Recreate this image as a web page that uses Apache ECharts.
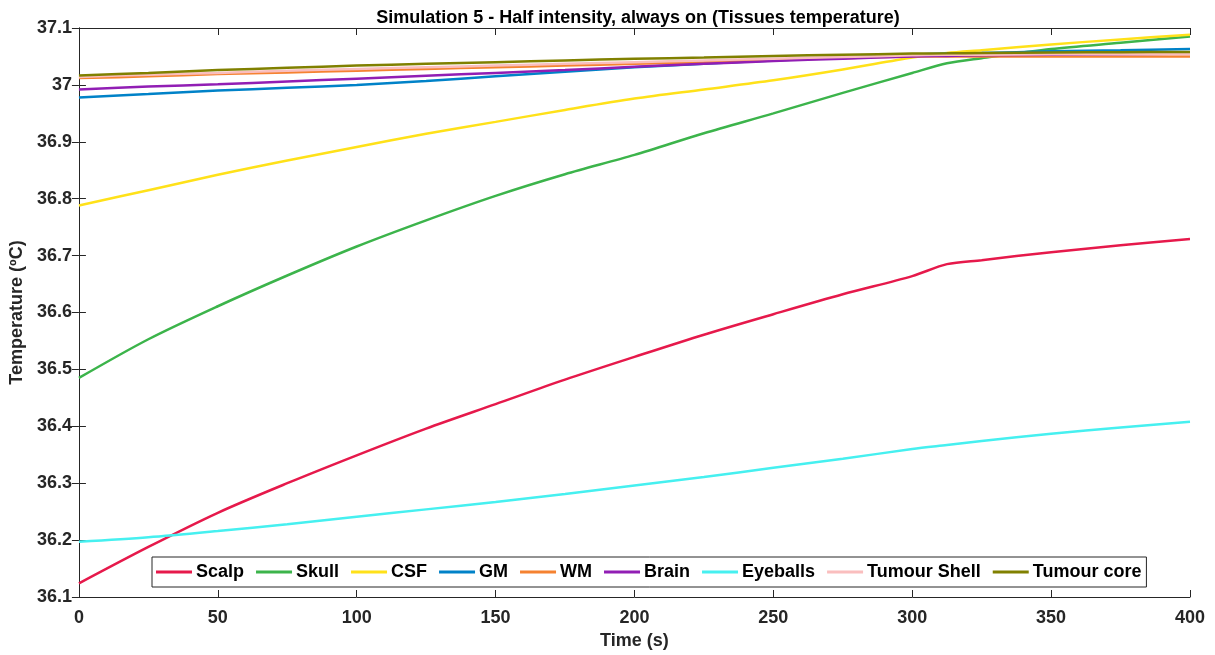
<!DOCTYPE html>
<html>
<head>
<meta charset="utf-8">
<script src="https://cdn.jsdelivr.net/npm/echarts@6/dist/echarts.min.js"></script>
<style>html,body{margin:0;padding:0;background:#fff}#c{width:1215px;height:655px}</style>
</head>
<body>
<div id="c"></div>
<script>
const times = [0,25,50,75,100,125,150,175,200,225,250,275,300,312.5,325,350,375,400];
const scalp    = [36.124,36.188,36.248,36.300,36.349,36.396,36.439,36.482,36.522,36.561,36.597,36.632,36.664,36.685,36.692,36.706,36.718,36.729];
const skull    = [36.485,36.553,36.611,36.665,36.716,36.762,36.805,36.843,36.877,36.915,36.950,36.986,37.021,37.038,37.047,37.063,37.074,37.085];
const csf      = [36.788,36.815,36.842,36.867,36.891,36.914,36.935,36.956,36.976,36.992,37.008,37.027,37.048,37.056,37.061,37.071,37.080,37.088];
const gm       = [36.978,36.984,36.990,36.995,37.000,37.007,37.015,37.023,37.031,37.037,37.043,37.048,37.053,37.055,37.056,37.059,37.061,37.063];
const wm       = [37.012,37.015,37.019,37.022,37.025,37.028,37.031,37.034,37.037,37.040,37.044,37.047,37.050,37.050,37.050,37.050,37.050,37.050];
const brain    = [36.992,36.997,37.001,37.006,37.011,37.016,37.021,37.026,37.032,37.037,37.042,37.046,37.050,37.051,37.052,37.053,37.054,37.055];
const eyeballs = [36.197,36.205,36.216,36.228,36.241,36.254,36.267,36.281,36.296,36.311,36.327,36.343,36.360,36.367,36.374,36.387,36.398,36.408];
const tshell   = [37.014,37.018,37.021,37.025,37.028,37.031,37.034,37.037,37.040,37.043,37.046,37.049,37.052,37.053,37.053,37.054,37.054,37.054];
const tcore    = [37.0165,37.021,37.026,37.030,37.034,37.037,37.040,37.043,37.046,37.048,37.051,37.053,37.055,37.0555,37.056,37.057,37.0575,37.058];

const seriesNames = ['Scalp','Skull','CSF','GM','WM','Brain','Eyeballs','Tumour Shell','Tumour core'];
const seriesData = [scalp,skull,csf,gm,wm,brain,eyeballs,tshell,tcore];
const colors = ['#e6194b','#3cb44b','#ffe119','#0082c8','#f58231','#911eb4','#46f0f0','#fabebe','#808000'];

const xTicks = {min:0,max:400,interval:50};
const yTicks = {min:36.1,max:37.1,interval:0.1};

const FONT = '"Liberation Sans", Arial, sans-serif';
const chart = echarts.init(document.getElementById('c'));
const axisLine = {show:true,lineStyle:{color:'#262626',width:1}};
const tick = {show:true,inside:true,length:7,lineStyle:{color:'#262626',width:1}};

chart.setOption({
  animation:false,
  color:colors,
  title:{
    text:'Simulation 5 - Half intensity, always on (Tissues temperature)',
    left:633, top:4, textAlign:'center',
    textStyle:{fontFamily:FONT,fontWeight:'bold',fontSize:18,color:'#000'}
  },
  grid:{left:77,right:25,top:28,bottom:58,containLabel:false},
  legend:{
    data:seriesNames,
    left:152, bottom:68,
    orient:'horizontal',
    backgroundColor:'#fff',
    borderColor:'#262626',
    borderWidth:1,
    padding:[6,5,6,4],
    itemGap:12,
    itemWidth:36,
    itemHeight:3,
    icon:'rect',
    textStyle:{fontFamily:FONT,fontWeight:'bold',fontSize:18,color:'#000',padding:[0,0,0,-1]}
  },
  xAxis:[{
    type:'value', position:'bottom', min:xTicks.min, max:xTicks.max, interval:xTicks.interval,
    name:'Time (s)', nameLocation:'middle', nameGap:32,
    nameTextStyle:{fontFamily:FONT,fontWeight:'bold',fontSize:18,color:'#262626'},
    axisLine:axisLine, axisTick:tick, splitLine:{show:false},
    axisLabel:{fontFamily:FONT,fontWeight:'bold',fontSize:18,color:'#262626',margin:12}
  },{
    type:'value', position:'top', min:xTicks.min, max:xTicks.max, interval:xTicks.interval,
    axisLine:axisLine, axisTick:tick, splitLine:{show:false}, axisLabel:{show:false}
  }],
  yAxis:[{
    type:'value', position:'left', min:yTicks.min, max:yTicks.max, interval:yTicks.interval,
    name:'Temperature (ºC)', nameLocation:'middle', nameGap:48,
    nameTextStyle:{fontFamily:FONT,fontWeight:'bold',fontSize:18,color:'#262626'},
    axisLine:axisLine, axisTick:tick, splitLine:{show:false},
    axisLabel:{fontFamily:FONT,fontWeight:'bold',fontSize:18,color:'#262626',margin:7,
      formatter:v=>String(parseFloat(v.toFixed(1)))}
  },{
    type:'value', position:'right', min:yTicks.min, max:yTicks.max, interval:yTicks.interval,
    axisLine:axisLine, axisTick:tick, splitLine:{show:false}, axisLabel:{show:false}
  }],
  series:seriesNames.map((n,i)=>({
    name:n, type:'line', xAxisIndex:0, yAxisIndex:0,
    data:times.map((t,j)=>[t,seriesData[i][j]]),
    showSymbol:false, symbol:'none', smooth:0.3,
    lineStyle:{width:2.5,color:colors[i]},
    itemStyle:{color:colors[i]}
  }))
});
</script>
</body>
</html>
